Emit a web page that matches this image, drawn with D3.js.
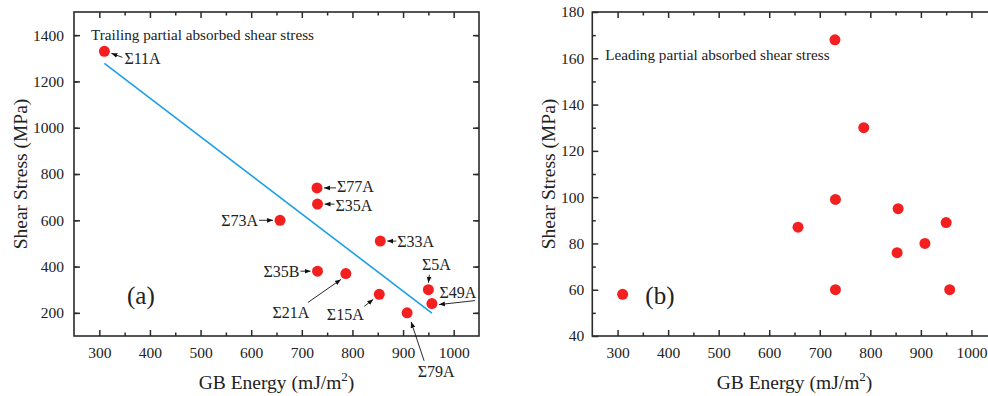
<!DOCTYPE html>
<html>
<head>
<meta charset="utf-8">
<script src="https://cdn.jsdelivr.net/npm/d3@7"></script>
<style>
  body { margin: 0; background: #fff; }
  svg { display: block; }
  svg text { font-family: "Liberation Serif", "Times New Roman", serif; fill: #222; }
</style>
</head>
<body>
<svg id="chart" width="988" height="396"></svg>
<script>
// grain boundaries, shared by both panels
var gbNames = ['Σ11A', 'Σ73A', 'Σ77A', 'Σ35A', 'Σ35B', 'Σ21A', 'Σ15A', 'Σ33A', 'Σ79A', 'Σ5A', 'Σ49A'];
var gbEnergy = [310, 657, 730, 731, 731, 787, 853, 855, 908, 950, 957];
var trailingStress = [1330, 600, 740, 670, 380, 370, 280, 510, 200, 300, 240];
var leadingStress = [58, 87, 168, 99, 60, 130, 76, 95, 80, 89, 60];

var xTicks = [300, 400, 500, 600, 700, 800, 900, 1000];
var yTicksA = [200, 400, 600, 800, 1000, 1200, 1400];
var yTicksB = [40, 60, 80, 100, 120, 140, 160, 180];

// label placement (pixel offsets from the point): text anchor, arrow start, arrow end
var labelLayout = {
  'Σ11A': {tx: 20, ty: 7, a: 'start', x1: 18, y1: 6, x2: 7, y2: 2},
  'Σ77A': {tx: 20, ty: -1, a: 'start', x1: 19, y1: 0, x2: 7, y2: 0},
  'Σ35A': {tx: 18, ty: 1, a: 'start', x1: 17, y1: 0, x2: 7, y2: 0},
  'Σ73A': {tx: -22, ty: 0, a: 'end', x1: -21, y1: 0, x2: -7, y2: 0},
  'Σ33A': {tx: 17, ty: 0, a: 'start', x1: 16, y1: 0, x2: 7, y2: 0},
  'Σ35B': {tx: -18, ty: 0, a: 'end', x1: -17, y1: 0, x2: -7, y2: 0},
  'Σ21A': {tx: -55, ty: 39, a: 'middle', x1: -38, y1: 29, x2: -5, y2: 6},
  'Σ15A': {tx: -34, ty: 20, a: 'middle', x1: -15, y1: 12, x2: -6, y2: 5},
  'Σ79A': {tx: 29, ty: 59, a: 'middle', x1: 17, y1: 48, x2: 4, y2: 9},
  'Σ5A':  {tx: 8, ty: -25, a: 'middle', x1: 1, y1: -15, x2: 0, y2: -7},
  'Σ49A': {tx: 26, ty: -11, a: 'middle', x1: 43, y1: -3, x2: 7, y2: 1}
};

var svg = d3.select('#chart');
var axisColor = '#2b2b2b';
var serif = '"Liberation Serif", "Times New Roman", serif';

svg.append('defs').append('marker')
  .attr('id', 'arrow')
  .attr('viewBox', '0 0 10 10')
  .attr('refX', 10).attr('refY', 5)
  .attr('markerWidth', 6).attr('markerHeight', 6)
  .attr('markerUnits', 'userSpaceOnUse')
  .attr('orient', 'auto')
  .append('path').attr('d', 'M0,1 L10,5 L0,9 Z').attr('fill', '#111');

function drawPanel(opts) {
  var g = svg.append('g').attr('transform', 'translate(' + opts.left + ',' + opts.top + ')');
  var w = opts.width, h = opts.height;
  var x = d3.scaleLinear().domain([250, 1050]).range([0, w]);
  var y = d3.scaleLinear().domain(opts.yDomain).range([h, 0]);

  var xMinor = d3.range(350, 1050, 100);
  var yStep = opts.yTicks[1] - opts.yTicks[0];
  var yMinor = d3.range(opts.yDomain[0] + yStep / 2, opts.yDomain[1], yStep);

  function styleAxis(sel) {
    sel.attr('font-family', null);
    sel.select('.domain').remove();
    sel.selectAll('line').attr('stroke', axisColor).attr('stroke-width', 1.5);
    sel.selectAll('text').attr('font-size', 15.5).attr('fill', '#222')
      .style('font-family', serif);
  }

  // major + minor ticks, all pointing inward
  g.append('g').attr('transform', 'translate(0,' + h + ')')
    .call(d3.axisBottom(x).tickValues(xTicks).tickSize(-6).tickPadding(11).tickFormat(d3.format('d')))
    .call(styleAxis);
  g.append('g').attr('transform', 'translate(0,' + h + ')')
    .call(d3.axisBottom(x).tickValues(xMinor).tickSize(-3.5).tickFormat(''))
    .call(styleAxis);
  g.append('g')
    .call(d3.axisTop(x).tickValues(xTicks).tickSize(-6).tickFormat(''))
    .call(styleAxis);
  g.append('g')
    .call(d3.axisTop(x).tickValues(xMinor).tickSize(-3.5).tickFormat(''))
    .call(styleAxis);
  g.append('g')
    .call(d3.axisLeft(y).tickValues(opts.yTicks).tickSize(-6).tickPadding(opts.yPad).tickFormat(d3.format('d')))
    .call(styleAxis);
  g.append('g')
    .call(d3.axisLeft(y).tickValues(yMinor).tickSize(-3.5).tickFormat(''))
    .call(styleAxis);
  g.append('g').attr('transform', 'translate(' + w + ',0)')
    .call(d3.axisRight(y).tickValues(opts.yTicks).tickSize(-6).tickFormat(''))
    .call(styleAxis);
  g.append('g').attr('transform', 'translate(' + w + ',0)')
    .call(d3.axisRight(y).tickValues(yMinor).tickSize(-3.5).tickFormat(''))
    .call(styleAxis);

  g.append('rect').attr('width', w).attr('height', h)
    .attr('fill', 'none').attr('stroke', axisColor).attr('stroke-width', 1.6);

  var pts = gbEnergy.map(function(e, i) { return {name: gbNames[i], x: e, y: opts.values[i]}; });

  if (opts.fit) {
    // least-squares line over the data range
    var mx = d3.mean(pts, function(d) { return d.x; });
    var my = d3.mean(pts, function(d) { return d.y; });
    var sxy = d3.sum(pts, function(d) { return (d.x - mx) * (d.y - my); });
    var sxx = d3.sum(pts, function(d) { return (d.x - mx) * (d.x - mx); });
    var slope = sxy / sxx, icpt = my - slope * mx;
    var ext = d3.extent(pts, function(d) { return d.x; });
    g.append('path')
      .datum(ext.map(function(e) { return [e, icpt + slope * e]; }))
      .attr('d', d3.line().x(function(d) { return x(d[0]); }).y(function(d) { return y(d[1]); }))
      .attr('fill', 'none').attr('stroke', '#1a9fe8').attr('stroke-width', 1.6);
  }

  g.selectAll('circle.pt').data(pts).enter().append('circle')
    .attr('class', 'pt')
    .attr('cx', function(d) { return x(d.x); })
    .attr('cy', function(d) { return y(d.y); })
    .attr('r', 5.5)
    .attr('fill', '#f42020');

  if (opts.labels) {
    var lab = g.selectAll('g.lab').data(pts).enter().append('g').attr('class', 'lab')
      .attr('transform', function(d) { return 'translate(' + x(d.x) + ',' + y(d.y) + ')'; });
    lab.append('line')
      .attr('x1', function(d) { return labelLayout[d.name].x1; })
      .attr('y1', function(d) { return labelLayout[d.name].y1; })
      .attr('x2', function(d) { return labelLayout[d.name].x2; })
      .attr('y2', function(d) { return labelLayout[d.name].y2; })
      .attr('stroke', '#111').attr('stroke-width', 0.9)
      .attr('marker-end', 'url(#arrow)');
    lab.append('text')
      .attr('x', function(d) { return labelLayout[d.name].tx; })
      .attr('y', function(d) { return labelLayout[d.name].ty; })
      .attr('dy', '0.35em')
      .attr('text-anchor', function(d) { return labelLayout[d.name].a; })
      .attr('font-size', 16)
      .text(function(d) { return d.name; });
  }

  g.append('text').attr('x', opts.noteX).attr('y', opts.noteY).attr('dy', '0.35em')
    .attr('font-size', 15.2).text(opts.note);
  g.append('text').attr('x', opts.tagX).attr('y', 283).attr('dy', '0.35em')
    .attr('font-size', 25).text(opts.tag);

  var xt = g.append('text').attr('x', w / 2 + opts.xTitleShift).attr('y', 377).attr('text-anchor', 'middle')
    .attr('font-size', 19.5);
  xt.append('tspan').text('GB Energy (mJ/m');
  xt.append('tspan').attr('font-size', 13).attr('dy', -8).text('2');
  xt.append('tspan').attr('dy', 8).text(')');

  g.append('text')
    .attr('transform', 'translate(' + opts.yTitleX + ',' + (h / 2) + ') rotate(-90)')
    .attr('text-anchor', 'middle').attr('dy', '0.35em')
    .attr('font-size', 19.5)
    .text('Shear Stress (MPa)');
}

drawPanel({
  left: 74, top: 12, width: 405, height: 324,
  yDomain: [100, 1500], yTicks: yTicksA, yPad: 10,
  values: trailingStress, fit: true, labels: true,
  note: 'Trailing partial absorbed shear stress', noteX: 17, noteY: 23,
  tag: '(a)', tagX: 53, xTitleShift: 0, yTitleX: -54
});

drawPanel({
  left: 592.3, top: 12, width: 404.4, height: 324,
  yDomain: [40, 180], yTicks: yTicksB, yPad: 8,
  values: leadingStress, fit: false, labels: false,
  note: 'Leading partial absorbed shear stress', noteX: 13, noteY: 43,
  tag: '(b)', tagX: 53, xTitleShift: 0, yTitleX: -44
});
</script>
</body>
</html>
